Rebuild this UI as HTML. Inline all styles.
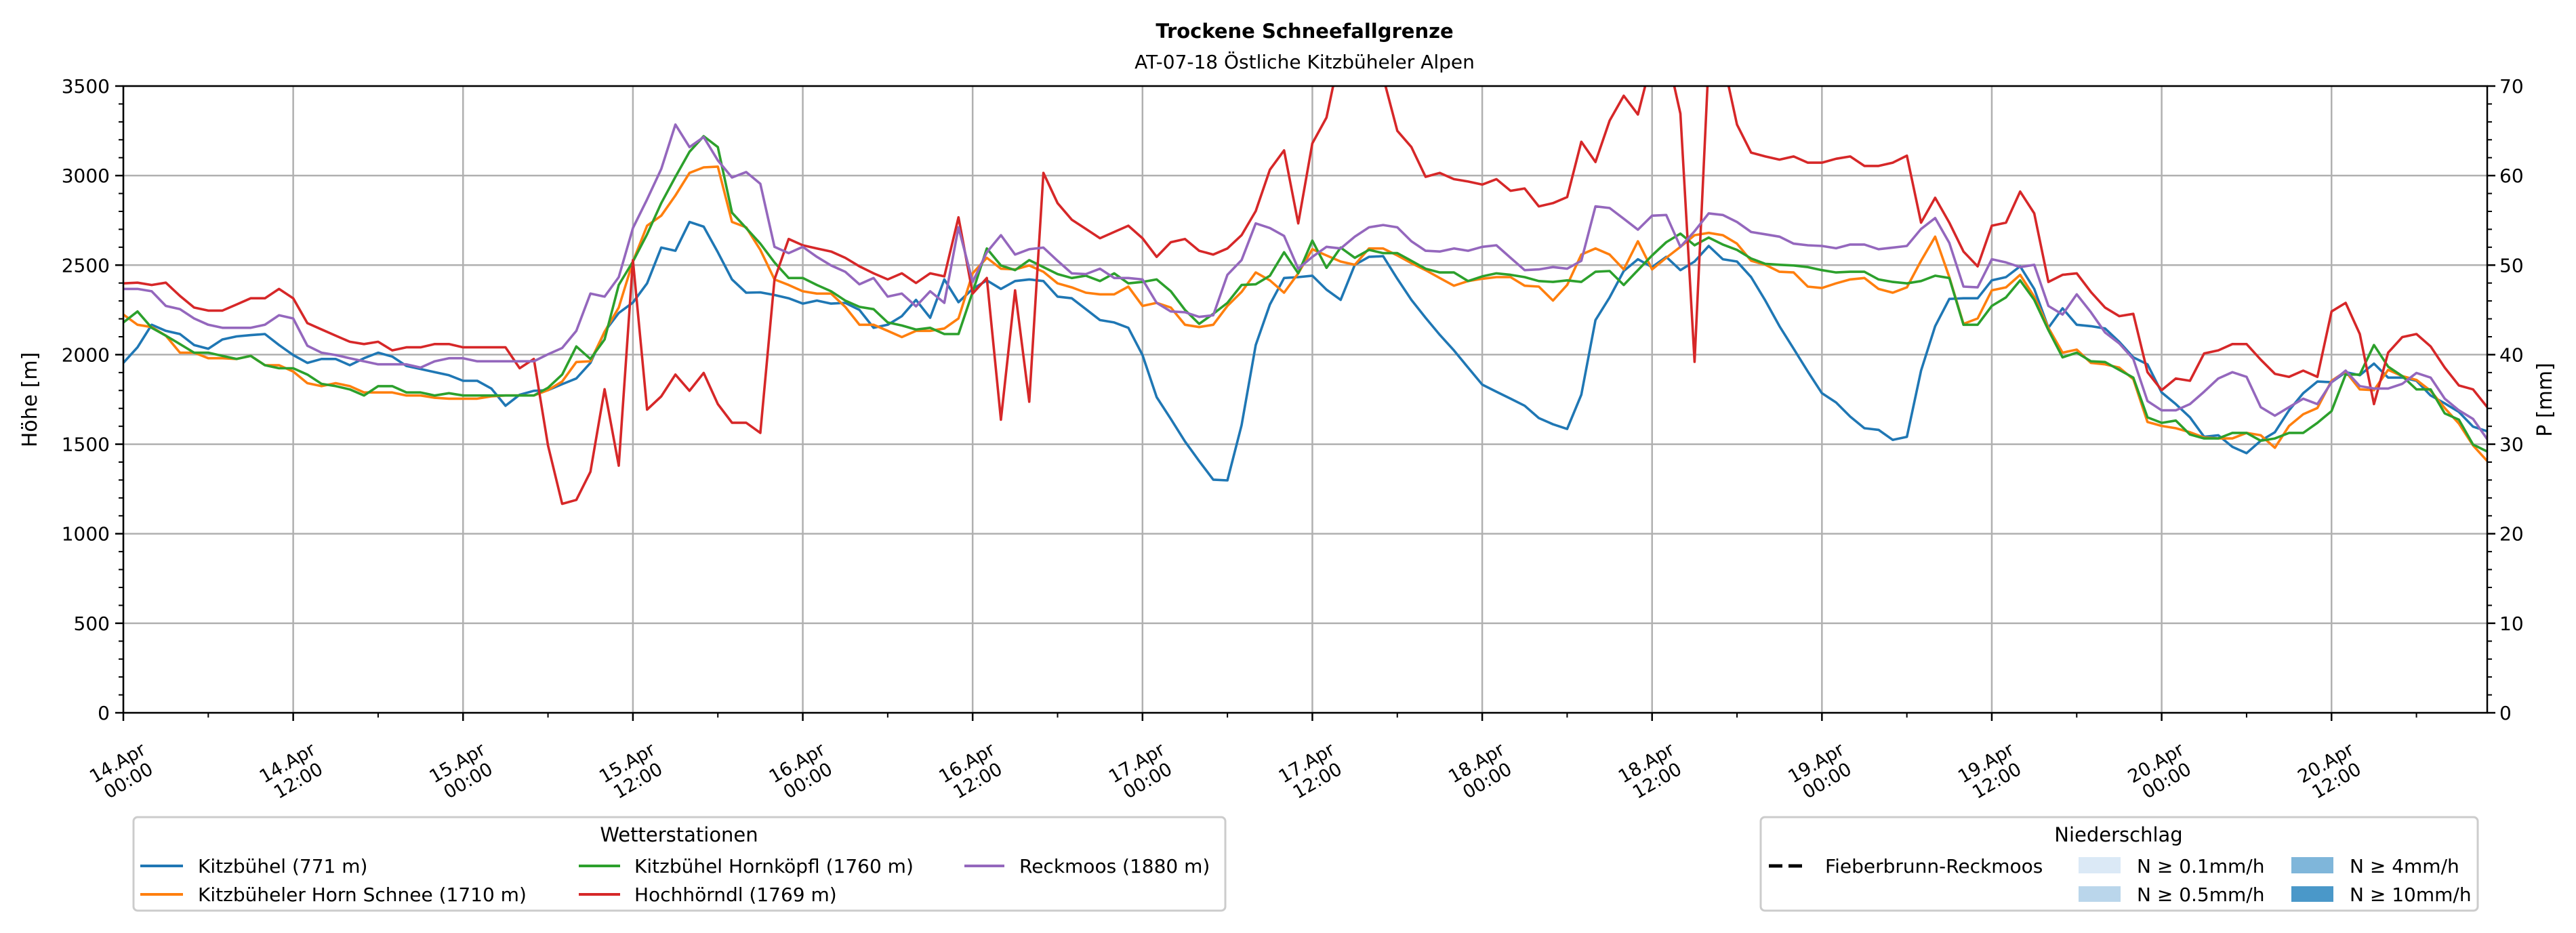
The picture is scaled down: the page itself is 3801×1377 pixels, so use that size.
<!DOCTYPE html>
<html><head><meta charset="utf-8">
<style>
html,body{margin:0;padding:0;background:#fff;}
svg{display:block;font-family:"DejaVu Sans","Liberation Sans",sans-serif;}
</style></head>
<body>
<svg id="chart" xmlns="http://www.w3.org/2000/svg" width="3801" height="1377" viewBox="0 0 3801 1377">
<rect width="3801" height="1377" fill="#fff"/>
<text x="1925" y="56" text-anchor="middle" font-size="29" font-weight="bold">Trockene Schneefallgrenze</text>
<text x="1925" y="101" text-anchor="middle" font-size="28">AT-07-18 Östliche Kitzbüheler Alpen</text>
<defs><clipPath id="plotclip"><rect x="182" y="127" width="3488" height="925"/></clipPath></defs>
<g id="grid"></g>
<g id="series" clip-path="url(#plotclip)"></g>
<g id="axes"></g>
<text transform="translate(54,590) rotate(-90)" text-anchor="middle" font-size="30">Höhe [m]</text>
<text transform="translate(3765,590) rotate(-90)" text-anchor="middle" font-size="30">P [mm]</text>

<g>
<rect x="197" y="1206" width="1611" height="138" rx="6" fill="#fff" stroke="#cccccc" stroke-width="3"/>
<text x="1002" y="1242" text-anchor="middle" font-size="29">Wetterstationen</text>
<g><line x1="207" y1="1278" x2="270" y2="1278" stroke="#1f77b4" stroke-width="4"/><text x="292" y="1288" font-size="28">Kitzbühel (771 m)</text></g>
<g><line x1="207" y1="1320" x2="270" y2="1320" stroke="#ff7f0e" stroke-width="4"/><text x="292" y="1330" font-size="28">Kitzbüheler Horn Schnee (1710 m)</text></g>
<g><line x1="854" y1="1278" x2="915" y2="1278" stroke="#2ca02c" stroke-width="4"/><text x="936" y="1288" font-size="28">Kitzbühel Hornköpfl (1760 m)</text></g>
<g><line x1="854" y1="1320" x2="915" y2="1320" stroke="#d62728" stroke-width="4"/><text x="936" y="1330" font-size="28">Hochhörndl (1769 m)</text></g>
<g><line x1="1423" y1="1278" x2="1482" y2="1278" stroke="#9467bd" stroke-width="4"/><text x="1504" y="1288" font-size="28">Reckmoos (1880 m)</text></g>
</g>

<g>
<rect x="2598" y="1206" width="1058" height="138" rx="6" fill="#fff" stroke="#cccccc" stroke-width="3"/>
<text x="3126" y="1242" text-anchor="middle" font-size="29">Niederschlag</text>
<g><line x1="2610" y1="1278" x2="2666" y2="1278" stroke="#000" stroke-width="5" stroke-dasharray="20,9"/><text x="2693" y="1288" font-size="28">Fieberbrunn-Reckmoos</text></g>
<g><rect x="3067" y="1265" width="62" height="24" fill="#dbe9f6"/><text x="3153" y="1288" font-size="28">N ≥ 0.1mm/h</text></g>
<g><rect x="3067" y="1308" width="62" height="23" fill="#bad6eb"/><text x="3153" y="1330" font-size="28">N ≥ 0.5mm/h</text></g>
<g><rect x="3381" y="1265" width="62" height="24" fill="#7fb6da"/><text x="3467" y="1288" font-size="28">N ≥ 4mm/h</text></g>
<g><rect x="3381" y="1308" width="62" height="23" fill="#4a98c9"/><text x="3467" y="1330" font-size="28">N ≥ 10mm/h</text></g>
</g>
</svg>
<script>
const seriesNames = ["kitzbuehel","kitzbueheler-horn","hornkoepfl","hochhoerndl","reckmoos"];
const seriesColors = ["#1f77b4","#ff7f0e","#2ca02c","#d62728","#9467bd"];
const yTicks = [0,500,1000,1500,2000,2500,3000,3500];
const y2Ticks = [0,10,20,30,40,50,60,70];
const xTickDays = ["14.Apr","14.Apr","15.Apr","15.Apr","16.Apr","16.Apr","17.Apr","17.Apr","18.Apr","18.Apr","19.Apr","19.Apr","20.Apr","20.Apr"];
const xTickTimes = ["00:00","12:00","00:00","12:00","00:00","12:00","00:00","12:00","00:00","12:00","00:00","12:00","00:00","12:00"];
const kitzbuehel = [1954,2041,2167,2133,2115,2054,2033,2085,2102,2109,2115,2054,1998,1954,1976,1976,1941,1980,2011,1989,1937,1920,1902,1885,1854,1854,1811,1715,1776,
1798,1802,1835,1867,1954,2128,2233,2291,2398,2598,2580,2741,2715,2572,2420,2346,2348,2333,2315,2285,2302,2285,2289,2250,2150,2167,2215,2306,
2206,2420,2293,2367,2415,2367,2411,2420,2411,2324,2315,2254,2193,2180,2150,1998,1763,1641,1515,1406,1302,1298,1606,2054,2280,2428,2433,2441,
2363,2306,2502,2546,2550,2424,2306,2206,2111,2024,1928,1833,1793,1754,1715,1646,1611,1585,1776,2193,2320,2467,2533,2489,2546,2472,2520,2607,
2533,2520,2433,2302,2159,2033,1906,1785,1733,1654,1589,1580,1524,1541,1911,2159,2311,2315,2315,2415,2433,2493,2367,2150,2259,2167,2159,
2146,2072,1985,1946,1789,1724,1650,1541,1550,1485,1450,1519,1567,1689,1785,1850,1846,1902,1885,1950,1872,1872,1854,1772,1728,1680,1598,1572];
const kitzbuehelerHorn = [2224,2167,2154,2106,2011,2011,1980,1980,1976,1993,1941,1941,1906,1841,1824,1841,1824,1789,1789,1789,1772,1772,1759,1754,1754,1754,1767,1772,1772,
1772,1802,1850,1959,1963,2128,2263,2520,2720,2776,2889,3015,3046,3050,2741,2711,2585,2420,2389,2354,2341,2341,2267,2167,2167,2133,2098,2133,
2133,2146,2202,2454,2541,2480,2476,2498,2463,2398,2376,2346,2337,2337,2380,2272,2289,2263,2167,2154,2167,2272,2350,2459,2415,2346,2454,2589,
2554,2520,2502,2593,2593,2554,2511,2472,2428,2385,2411,2424,2433,2433,2385,2380,2302,2389,2559,2593,2559,2476,2633,2476,2541,2602,2667,2680,
2667,2620,2524,2502,2463,2459,2380,2372,2398,2420,2428,2367,2346,2376,2524,2659,2433,2172,2202,2359,2376,2446,2324,2150,2011,2028,1954,
1946,1928,1863,1624,1602,1589,1567,1537,1532,1532,1563,1550,1480,1602,1667,1702,1854,1906,1806,1802,1915,1880,1859,1798,1702,1615,1493,1406];
const hornkoepfl = [2180,2241,2150,2106,2059,2011,2011,1993,1976,1993,1941,1924,1924,1889,1837,1824,1806,1772,1824,1824,1789,1789,1772,1785,1772,1772,1772,1772,1772,
1772,1815,1889,2046,1976,2085,2389,2520,2672,2846,2993,3133,3220,3159,2793,2707,2620,2515,2428,2428,2389,2354,2302,2267,2254,2180,2163,2140,
2150,2115,2115,2350,2593,2498,2472,2528,2489,2450,2428,2441,2411,2454,2398,2406,2420,2354,2250,2172,2228,2289,2389,2393,2441,2572,2454,2637,
2485,2598,2541,2585,2567,2567,2524,2480,2459,2459,2411,2437,2454,2446,2433,2411,2406,2415,2406,2463,2467,2389,2472,2554,2628,2676,2611,2654,
2615,2585,2537,2507,2502,2498,2489,2472,2459,2463,2463,2420,2406,2398,2411,2441,2428,2167,2167,2272,2320,2415,2306,2137,1985,2011,1963,
1959,1915,1872,1650,1619,1632,1554,1532,1532,1563,1563,1519,1532,1563,1563,1619,1685,1889,1889,2054,1933,1880,1806,1806,1672,1637,1498,1459];
const hochhoerndl = [2398,2402,2389,2402,2328,2263,2246,2246,2280,2315,2315,2367,2315,2176,2141,2106,2072,2059,2072,2024,2041,2041,2059,2059,2041,2041,2041,2041,1924,
1976,1493,1167,1189,1346,1807,1380,2528,1693,1767,1889,1798,1898,1724,1620,1620,1563,2420,2646,2611,2593,2576,2541,2493,2454,2420,2454,2400,
2454,2437,2767,2341,2428,1637,2359,1737,3015,2846,2754,2702,2650,2685,2720,2650,2546,2628,2646,2580,2559,2593,2667,2802,3033,3141,2733,3180,
3324,3700,3800,3700,3550,3250,3159,2993,3015,2980,2967,2950,2980,2915,2928,2828,2846,2880,3189,3076,3307,3446,3341,3650,3700,3346,1960,3650,
3650,3285,3128,3107,3089,3107,3072,3072,3094,3107,3054,3054,3072,3111,2737,2876,2737,2576,2493,2720,2737,2911,2789,2406,2446,2454,2350,
2263,2215,2228,1902,1802,1867,1854,2007,2024,2059,2059,1972,1893,1876,1911,1876,2241,2289,2115,1724,2011,2098,2115,2046,1928,1828,1806,1707];
const reckmoos = [2367,2367,2354,2272,2254,2202,2167,2150,2150,2150,2167,2220,2202,2050,2011,1998,1980,1963,1946,1946,1946,1928,1963,1980,1980,1963,1963,1963,1963,
1963,2002,2037,2133,2341,2324,2433,2707,2867,3037,3285,3159,3215,3085,2989,3020,2954,2602,2567,2602,2546,2498,2463,2393,2428,2324,2341,2270,
2354,2289,2711,2406,2572,2667,2559,2589,2598,2524,2454,2450,2480,2428,2428,2420,2289,2241,2237,2211,2220,2446,2528,2733,2707,2663,2480,2546,
2602,2593,2659,2711,2724,2711,2633,2580,2576,2593,2580,2602,2611,2541,2472,2476,2489,2480,2524,2828,2819,2759,2698,2776,2780,2602,2689,2789,
2780,2741,2685,2672,2659,2620,2611,2607,2594,2615,2615,2589,2598,2607,2702,2763,2624,2380,2376,2533,2515,2489,2502,2272,2224,2337,2237,
2124,2063,1976,1741,1689,1689,1724,1793,1867,1902,1876,1707,1659,1707,1754,1724,1846,1911,1824,1811,1811,1837,1898,1872,1754,1689,1641,1528];
const allSeries = [kitzbuehel,kitzbuehelerHorn,hornkoepfl,hochhoerndl,reckmoos];

const NS="http://www.w3.org/2000/svg";
const X0=182,X1=3670,Y0=1052,Y1=127,HMAX=167,YMAX=3500,Y2MAX=70;
function xs(h){return X0+(X1-X0)*h/HMAX;}
function ys(v){return Y0-(Y0-Y1)*v/YMAX;}
function ys2(v){return Y0-(Y0-Y1)*v/Y2MAX;}
function mk(tag,attrs,parent){const e=document.createElementNS(NS,tag);for(const k in attrs)e.setAttribute(k,attrs[k]);parent.appendChild(e);return e;}
const grid=document.getElementById('grid'),axes=document.getElementById('axes'),ser=document.getElementById('series');

for(let i=0;i<yTicks.length;i++){
  const y=ys(yTicks[i]);
  const g=mk('line',{x1:X0,x2:X1,y1:y,y2:y,stroke:'#b0b0b0','stroke-width':2.5},grid);
  
  
  mk('line',{x1:X0-12,x2:X0,y1:y,y2:y,stroke:'#000','stroke-width':2.5},axes);
  const t=mk('text',{x:X0-20,y:y+10,'text-anchor':'end','font-size':28},axes);
  t.textContent=yTicks[i];
  
  
}
for(let v=100;v<YMAX;v+=100){if(v%500){const y=ys(v);mk('line',{x1:X0-7,x2:X0,y1:y,y2:y,stroke:'#000','stroke-width':2},axes);}}
for(let i=0;i<y2Ticks.length;i++){
  const y=ys2(y2Ticks[i]);
  mk('line',{x1:X1,x2:X1+12,y1:y,y2:y,stroke:'#000','stroke-width':2.5},axes);
  const t=mk('text',{x:X1+18,y:y+10,'font-size':28},axes);
  t.textContent=y2Ticks[i];
  
  
}
for(let v=2;v<Y2MAX;v+=2){if(v%10){const y=ys2(v);mk('line',{x1:X1,x2:X1+7,y1:y,y2:y,stroke:'#000','stroke-width':2},axes);}}
for(let i=0;i<xTickDays.length;i++){
  const x=xs(i*12);
  const g=mk('line',{x1:x,x2:x,y1:Y1,y2:Y0,stroke:'#b0b0b0','stroke-width':2.5},grid);
  
  
  mk('line',{x1:x,x2:x,y1:Y0,y2:Y0+12,stroke:'#000','stroke-width':2.5},axes);
  const mx=xs(i*12+6);
  if(i*12+6<HMAX) mk('line',{x1:mx,x2:mx,y1:Y0,y2:Y0+7,stroke:'#000','stroke-width':2},axes);
  const t1=mk('text',{x:0,y:0,'text-anchor':'middle','font-size':27,transform:`translate(${x-4},${1134}) rotate(-30)`},axes);
  t1.textContent=xTickDays[i];
  
  
  const t2=mk('text',{x:0,y:0,'text-anchor':'middle','font-size':27,transform:`translate(${x+12},${1160}) rotate(-30)`},axes);
  t2.textContent=xTickTimes[i];
  
  
}
mk('rect',{x:X0,y:Y1,width:X1-X0,height:Y0-Y1,fill:'none',stroke:'#000','stroke-width':2.5},axes);

for(let s=0;s<allSeries.length;s++){
  const d=allSeries[s].map((v,h)=>(h?'L':'M')+xs(h).toFixed(1)+','+ys(v).toFixed(1)).join('');
  const p=mk('path',{d:d,fill:'none',stroke:seriesColors[s],'stroke-width':3.6,'stroke-linejoin':'round'},ser);
  
  
}
</script>
</body></html>
